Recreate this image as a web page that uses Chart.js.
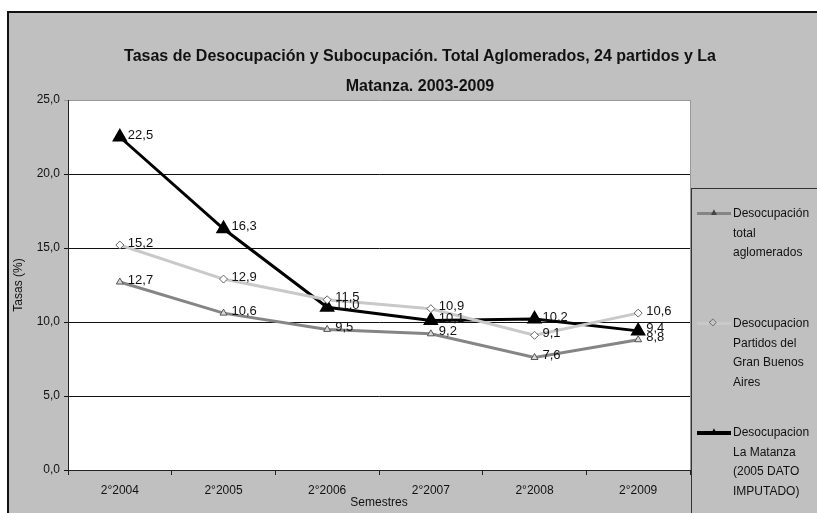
<!DOCTYPE html>
<html>
<head>
<meta charset="utf-8">
<script src="https://cdn.jsdelivr.net/npm/chart.js@4"></script>
<style>
  body { margin: 0; background: #fff; }
  #wrap { position: relative; width: 817px; height: 513px; overflow: hidden; }
  #frame { position: absolute; left: 7px; top: 11px; right: 0; bottom: 0; background: #c0c0c0;
           border-top: 2px solid #111; border-left: 2px solid #111; }
  canvas { position: absolute; left: 0; top: 0; }
  #title { position: absolute; left: 70px; width: 700px; top: 41px; text-align: center;
           font-family: 'Liberation Sans', sans-serif; font-weight: bold; font-size: 16px;
           line-height: 30px; color: #111; }
  #legend { position: absolute; left: 691px; top: 188px; width: 150px; height: 340px;
            border: 1px solid #333; font-family: 'Liberation Sans', sans-serif;
            font-size: 12px; color: #111; }
  .item { position: absolute; left: 0; display: flex; }
  .sample { position: relative; width: 34px; height: 19px; margin-left: 5px; flex: none; }
  .sample .ln { position: absolute; left: 0; right: 0; top: 8px; }
  .sample .mk { position: absolute; left: 12px; top: 2px; font-size: 10px; line-height: 12px; }
  .txt { line-height: 19.5px; margin-left: 2px; white-space: nowrap; }
</style>
</head>
<body>
<div id="wrap">
  <div id="frame"></div>
  <canvas id="chart" width="817" height="513"></canvas>
  <div id="title"></div>
  <div id="legend"></div>
</div>
<script>
// Data
const categories = ['2°2004', '2°2005', '2°2006', '2°2007', '2°2008', '2°2009'];
const totalAglomerados = [12.7, 10.6, 9.5, 9.2, 7.6, 8.8];
const partidosGBA = [15.2, 12.9, 11.5, 10.9, 9.1, 10.6];
const laMatanza = [22.5, 16.3, 11.0, 10.1, 10.2, 9.4];
const seriesNames = [
    ['Desocupación', 'total', 'aglomerados'],
    ['Desocupacion', 'Partidos del', 'Gran Buenos', 'Aires'],
    ['Desocupacion', 'La Matanza', '(2005 DATO', 'IMPUTADO)']
];
const titleLines = ['Tasas de Desocupación y Subocupación. Total Aglomerados, 24 partidos y La', 'Matanza. 2003-2009'];
const yMin = 0, yMax = 25, yStep = 5;

const FONT = "'Liberation Sans', sans-serif";
const fmt = v => v.toFixed(1).replace('.', ',');

document.getElementById('title').innerHTML = titleLines.join('<br>');

// Draw the value next to each point
const valueLabels = {
    id: 'valueLabels',
    afterDatasetsDraw(chart) {
        const ctx = chart.ctx;
        ctx.save();
        ctx.font = '13px ' + FONT;
        ctx.fillStyle = '#111';
        ctx.textBaseline = 'middle';
        chart.data.datasets.forEach((ds, i) => {
            chart.getDatasetMeta(i).data.forEach((pt, j) => {
                ctx.fillText(fmt(ds.data[j]), pt.x + 8, pt.y - 2);
            });
        });
        ctx.restore();
    }
};

// White plot area with a grey right edge
const plotBg = {
    id: 'plotBg',
    beforeDraw(chart) {
        const a = chart.chartArea, ctx = chart.ctx;
        ctx.save();
        ctx.fillStyle = '#fff';
        ctx.fillRect(a.left, a.top, a.right - a.left, a.bottom - a.top);
        ctx.strokeStyle = '#999';
        ctx.lineWidth = 1;
        ctx.beginPath();
        ctx.moveTo(a.right + 0.5, a.top);
        ctx.lineTo(a.right + 0.5, a.bottom);
        ctx.stroke();
        ctx.restore();
    }
};

const datasets = [
    {
        label: seriesNames[0].join(' '),
        data: totalAglomerados,
        borderColor: '#858585',
        borderWidth: 3,
        pointStyle: 'triangle',
        pointRadius: 4,
        pointBackgroundColor: '#d8d8d8',
        pointBorderColor: '#555',
        pointBorderWidth: 1,
        tension: 0
    },
    {
        label: seriesNames[1].join(' '),
        data: partidosGBA,
        borderColor: '#c9c9c9',
        borderWidth: 3,
        pointStyle: 'rectRot',
        pointRadius: 4,
        pointBackgroundColor: '#fff',
        pointBorderColor: '#666',
        pointBorderWidth: 1,
        tension: 0
    },
    {
        label: seriesNames[2].join(' '),
        data: laMatanza,
        borderColor: '#000',
        borderWidth: 3,
        pointStyle: 'triangle',
        pointRadius: 6,
        pointBackgroundColor: '#000',
        pointBorderColor: '#000',
        tension: 0
    }
];

new Chart(document.getElementById('chart').getContext('2d'), {
    type: 'line',
    data: { labels: categories, datasets: datasets },
    options: {
        responsive: false,
        animation: false,
        layout: { padding: { top: 100, left: 0, right: 127, bottom: 0 } },
        plugins: {
            legend: { display: false },
            tooltip: { enabled: false },
            title: { display: false }
        },
        scales: {
            x: {
                offset: true,
                afterFit: s => { s.height = 43; },
                grid: { drawOnChartArea: false, drawTicks: true, tickLength: 5, color: '#222', offset: true },
                border: { color: '#222', width: 1 },
                ticks: { color: '#111', font: { family: FONT, size: 12 }, padding: 8 },
                title: { display: true, text: 'Semestres', color: '#111', font: { family: FONT, size: 12 }, padding: { top: 0, bottom: 3 } }
            },
            y: {
                min: yMin,
                max: yMax,
                afterFit: s => { s.width = 68; },
                ticks: { stepSize: yStep, color: '#111', font: { family: FONT, size: 12 }, padding: 4, callback: v => fmt(v) },
                grid: { color: c => (c.tick && c.tick.value === yMax) ? '#999' : '#111', lineWidth: 1, tickLength: 4 },
                border: { color: '#222', width: 1 },
                title: { display: true, text: 'Tasas (%)', color: '#111', font: { family: FONT, size: 12 }, padding: { top: 11, bottom: 0 } }
            }
        }
    },
    plugins: [plotBg, valueLabels]
});

// HTML legend built from the series names
const legendEl = document.getElementById('legend');
const entryTops = [15, 125, 234];
datasets.forEach((ds, i) => {
    const item = document.createElement('div');
    item.className = 'item';
    item.style.top = entryTops[i] + 'px';
    const sample = document.createElement('div');
    sample.className = 'sample';
    const ln = document.createElement('div');
    ln.className = 'ln';
    ln.style.background = ds.borderColor;
    ln.style.height = (i === 2 ? 4 : 3) + 'px';
    const mk = document.createElement('div');
    mk.className = 'mk';
    mk.textContent = i === 1 ? '◇' : '▲';
    mk.style.color = i === 0 ? '#444' : (i === 1 ? '#555' : '#000');
    sample.appendChild(ln);
    sample.appendChild(mk);
    const txt = document.createElement('div');
    txt.className = 'txt';
    txt.innerHTML = seriesNames[i].join('<br>');
    item.appendChild(sample);
    item.appendChild(txt);
    legendEl.appendChild(item);
});
</script>
</body>
</html>
